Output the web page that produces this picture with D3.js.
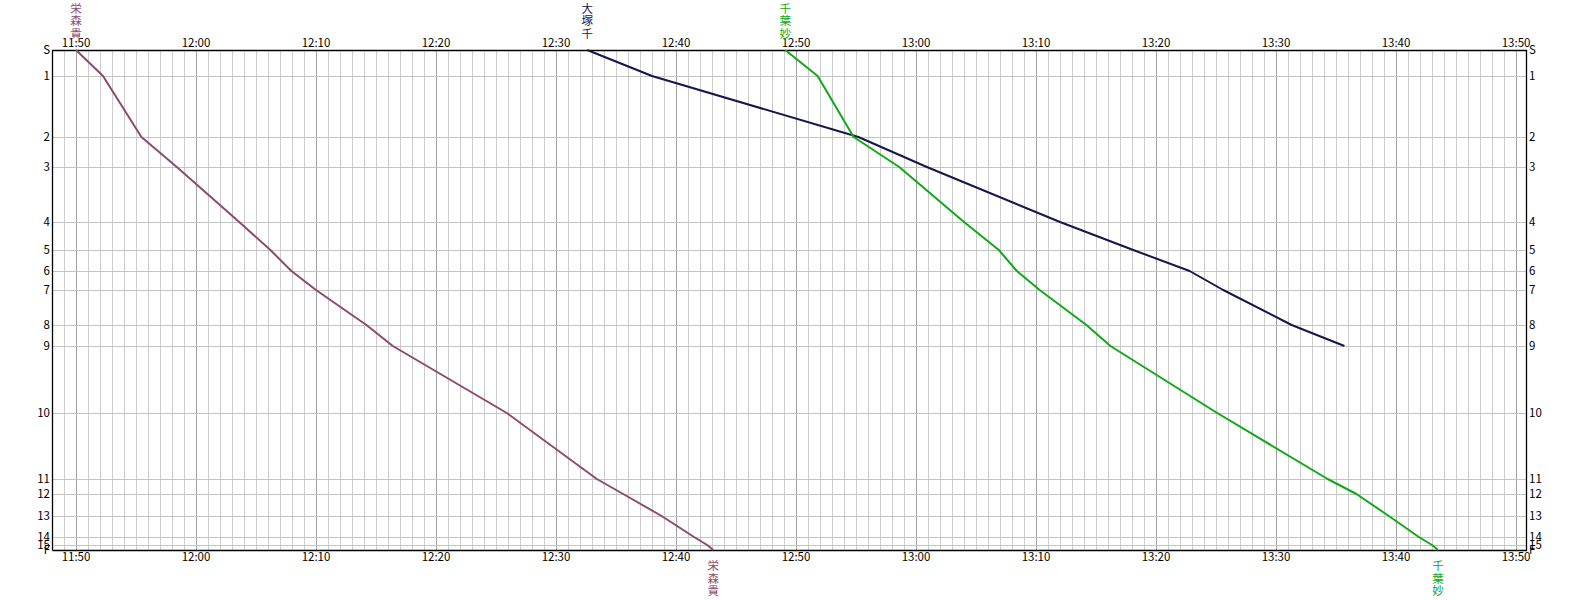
<!DOCTYPE html>
<html><head><meta charset="utf-8">
<script src="https://cdn.jsdelivr.net/npm/d3@7"></script>
<style>body{margin:0;background:#fff}svg{display:block}</style>
</head><body>
<script>
// Stations (top to bottom) and their distance along the line
const stations = ["S","1","2","3","4","5","6","7","8","9","10","11","12","13","14","15","F"];
const stationDist = [0,26,87,117,172,200,221,240,275,296,363,429,444,466,487,495,500];
// Time ticks (minutes after 11:50)
const timeLabels = ["11:50","12:00","12:10","12:20","12:30","12:40","12:50","13:00","13:10","13:20","13:30","13:40","13:50"];
// Train names and colours
const trainNames = ["栄森貴","大塚千","千葉妙"];
const trainColors = ["#8c4a6c","#16164a","#10a818"];
// Passing times (minutes after 11:50) at stations S,1,2,... for each train
const train1Times = [0,2.25,5.45,8.4,13.6,16.2,17.95,20.0,24.2,26.4,35.9,43.4,45.6,48.8,51.5,52.6,53.1];
const train2Times = [42.6,48.0,65.2,70.9,82.0,88.1,92.8,95.6,101.3,105.7];
const train3Times = [59.1,61.8,64.8,68.6,74.0,76.9,78.4,80.3,84.2,86.2,95.1,104.3,106.7,109.4,111.9,113.0,113.5];
const trainTimes = [train1Times, train2Times, train3Times];
const endLabel = [true,false,true];

const W=1578,H=600;
const svg=d3.select("body").append("svg").attr("width",W).attr("height",H);
const x=d3.scaleLinear().domain([-2,120.83]).range([52,1526]);
const y=d3.scaleLinear().domain([0,500]).range([50,550]);
const font="'Noto Sans CJK JP', sans-serif";

// minor vertical grid every minute
const minutes=d3.range(-1,121);
svg.append("g").selectAll("line").data(minutes).join("line")
  .attr("x1",d=>Math.round(x(d))+0.5).attr("x2",d=>Math.round(x(d))+0.5)
  .attr("y1",50).attr("y2",550)
  .attr("stroke",d=>d%10===0?"#a0a0a0":"#cccccc").attr("stroke-width",1);
// horizontal station lines
svg.append("g").selectAll("line").data(stationDist.slice(1,-1)).join("line")
  .attr("x1",52).attr("x2",1526)
  .attr("y1",d=>Math.round(y(d))+0.5).attr("y2",d=>Math.round(y(d))+0.5)
  .attr("stroke","#c4c4c4").attr("stroke-width",1);
// frame
svg.append("path").attr("d","M52.5,550.5V50.5H1526.5V550.5H52.5").attr("fill","none").attr("stroke","#000").attr("stroke-width",1.3);

// time labels top & bottom
const tl=timeLabels.map((t,i)=>({t,v:i*10}));
svg.append("g").selectAll("text").data(tl).join("text")
  .attr("x",d=>x(d.v)).attr("y",47).attr("text-anchor","middle")
  .attr("font-family",font).attr("font-size",11.5).text(d=>d.t);
svg.append("g").selectAll("text").data(tl).join("text")
  .attr("x",d=>x(d.v)).attr("y",561).attr("text-anchor","middle")
  .attr("font-family",font).attr("font-size",11.5).text(d=>d.t);

// station labels left & right
const st=stations.map((s,i)=>({s,d:stationDist[i]}));
svg.append("g").selectAll("text").data(st).join("text")
  .attr("x",50).attr("y",d=>y(d.d)+4).attr("text-anchor","end")
  .attr("font-family",font).attr("font-size",11.5).text(d=>d.s);
svg.append("g").selectAll("text").data(st).join("text")
  .attr("x",1529).attr("y",d=>y(d.d)+4).attr("text-anchor","start")
  .attr("font-family",font).attr("font-size",11.5).text(d=>d.s);

// trains
const line=d3.line().x(d=>x(d[0])).y(d=>y(d[1]));
trainTimes.forEach((times,i)=>{
  const pts=times.map((t,j)=>[t,stationDist[j]]);
  svg.append("path").attr("d",line(pts)).attr("fill","none")
    .attr("stroke",trainColors[i]).attr("stroke-width",2).attr("stroke-linejoin","round");
  const chars=Array.from(trainNames[i]);
  const g=svg.append("g").attr("fill",trainColors[i]).attr("font-family",font).attr("font-size",11.5);
  chars.forEach((c,k)=>{
    g.append("text").attr("x",x(times[0])).attr("y",12.5+k*12.5).attr("text-anchor","middle").text(c);
  });
  if(endLabel[i]){
    const last=times[times.length-1];
    chars.forEach((c,k)=>{
      g.append("text").attr("x",x(last)).attr("y",570+k*12.5).attr("text-anchor","middle").text(c);
    });
  }
});
</script>
</body></html>
